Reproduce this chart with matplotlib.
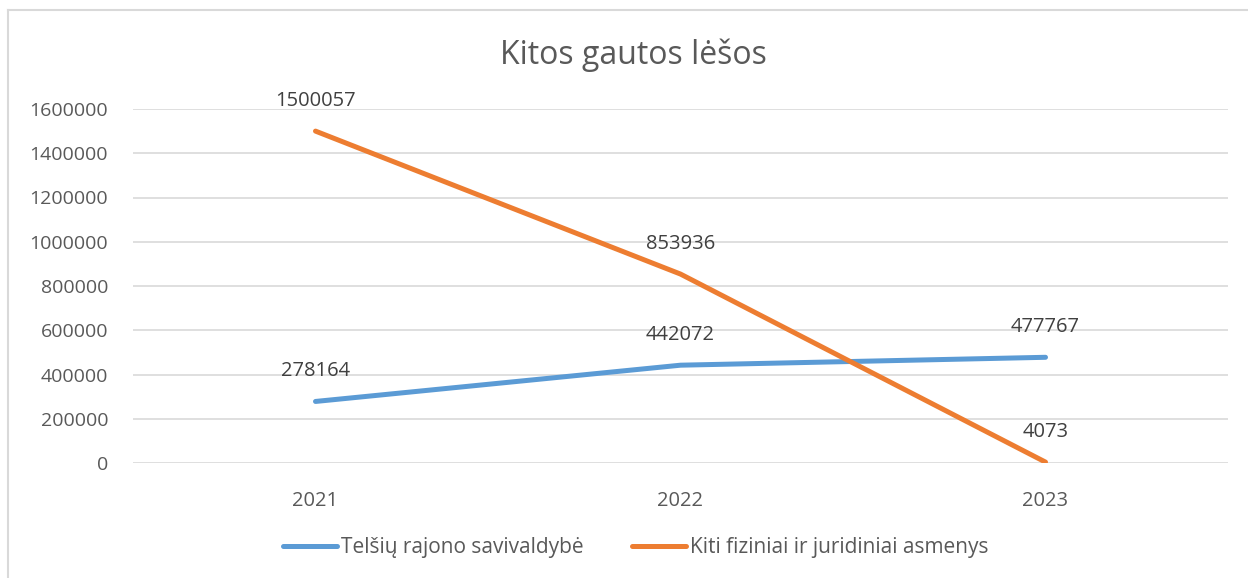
import matplotlib.pyplot as plt
from matplotlib.lines import Line2D

# duomenys
years = ["2021", "2022", "2023"]
savivaldybe = [278164, 442072, 477767]
kiti = [1500057, 853936, 4073]
series_names = ["Telšių rajono savivaldybė", "Kiti fiziniai ir juridiniai asmenys"]
yticks = [0, 200000, 400000, 600000, 800000, 1000000, 1200000, 1400000, 1600000]

plt.rcParams['font.family'] = ['Open Sans', 'DejaVu Sans']
text_col = '#595959'
blue = '#5B9BD5'
orange = '#ED7D31'

fig = plt.figure(figsize=(12.48, 5.78), dpi=100)
ax = fig.add_axes([133 / 1248, (578 - 463) / 578, 1095 / 1248, 354 / 578])

x = range(len(years))
ax.plot(x, savivaldybe, color=blue, lw=3.6, solid_capstyle='round', zorder=3)
ax.plot(x, kiti, color=orange, lw=3.6, solid_capstyle='round', zorder=3)

# reikšmių žymės
for xi, v in zip(x, savivaldybe):
    ax.annotate(str(v), (xi, v), xytext=(0, 22), textcoords='offset points',
                ha='center', va='center', fontsize=14.5, color='#404040')
for xi, v in zip(x, kiti):
    ax.annotate(str(v), (xi, v), xytext=(0, 22), textcoords='offset points',
                ha='center', va='center', fontsize=14.5, color='#404040')

ax.set_xlim(-0.5, 2.5)
ax.set_ylim(0, 1600000)
ax.set_yticks(yticks)
ax.set_yticklabels([str(t) for t in yticks])
ax.set_xticks(list(x))
ax.set_xticklabels(years)
ax.tick_params(axis='y', length=0, labelsize=14, colors=text_col, pad=18)
ax.tick_params(axis='x', length=0, labelsize=14.5, colors=text_col, pad=20)
ax.yaxis.grid(True, color='#D9D9D9', lw=1.2)
ax.set_axisbelow(True)
for s in ax.spines.values():
    s.set_visible(False)

fig.text(633 / 1248, 1 - 55 / 578, "Kitos gautos lėšos", ha='center', va='center',
         fontsize=23, color=text_col)

handles = [Line2D([], [], color=blue, lw=3.6, solid_capstyle='round'),
           Line2D([], [], color=orange, lw=3.6, solid_capstyle='round')]
leg = fig.legend(handles, series_names, loc='center', bbox_to_anchor=(636 / 1248, 1 - 548 / 578),
                 ncol=2, frameon=False, fontsize=15, handlelength=2.6, handletextpad=0.2,
                 columnspacing=2.3)
for t in leg.get_texts():
    t.set_color(text_col)

# rėmelis
fig.add_artist(Line2D([8 / 1248, 8 / 1248], [0, 1 - 10 / 578], color='#D9D9D9', lw=1.5,
                      transform=fig.transFigure))
fig.add_artist(Line2D([8 / 1248, 1], [1 - 10 / 578, 1 - 10 / 578], color='#D9D9D9', lw=1.5,
                      transform=fig.transFigure))

fig.savefig('out.png', dpi=100)
